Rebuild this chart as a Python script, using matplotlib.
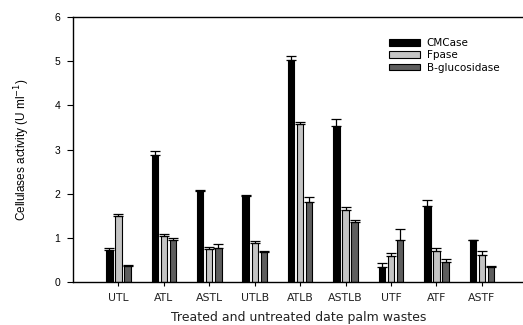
import matplotlib
matplotlib.use("Agg")
import matplotlib.pyplot as plt
import numpy as np

plt.rcParams['font.family'] = ['Liberation Sans', 'DejaVu Sans']

samples = ["UTL", "ATL", "ASTL", "UTLB", "ATLB", "ASTLB", "UTF", "ATF", "ASTF"]

cmcase = [0.72, 2.87, 2.05, 1.94, 5.03, 3.54, 0.34, 1.73, 0.94]
cmcase_err = [0.06, 0.10, 0.04, 0.04, 0.08, 0.15, 0.10, 0.12, 0.02]

fpase = [1.49, 1.04, 0.75, 0.88, 3.57, 1.64, 0.59, 0.71, 0.61]
fpase_err = [0.05, 0.04, 0.04, 0.04, 0.05, 0.05, 0.06, 0.07, 0.10]

bgluc = [0.37, 0.95, 0.77, 0.67, 1.82, 1.36, 0.96, 0.46, 0.34]
bgluc_err = [0.02, 0.05, 0.10, 0.04, 0.10, 0.05, 0.25, 0.05, 0.03]

series = [("CMCase", cmcase, cmcase_err, "#000000"),
          ("Fpase", fpase, fpase_err, "#c4c4c4"),
          ("B-glucosidase", bgluc, bgluc_err, "#5e5e5e")]

wide = ['DejaVu Sans']

fig = plt.figure(figsize=(5.23, 3.25), dpi=100)
ax = fig.add_axes([73 / 523, 43 / 325, 452 / 523, 265 / 325])

x = np.arange(1, len(samples) + 1)
width = 0.14
offsets = [-0.2, 0.0, 0.2]

for (name, vals, errs, col), off in zip(series, offsets):
    ax.bar(x + off, vals, width, color=col, edgecolor="black", linewidth=0.8, label=name, zorder=2)
    ax.errorbar(x + off, vals, yerr=[np.zeros(len(errs)), errs], fmt="none",
                ecolor="black", elinewidth=0.9, capsize=3.5, capthick=0.9, zorder=3)

ax.set_xlim(0, 9.95)
ax.set_ylim(0, 6)
ax.set_xticks(x)
ax.set_xticklabels(samples, fontsize=7.8, family=wide, color="#222222")
ax.set_yticks(range(0, 7))
ax.tick_params(axis="y", labelsize=7.5, length=4, width=0.8, pad=5)
ax.tick_params(axis="x", length=3, width=0.8, pad=5)

ax.spines["right"].set_visible(False)
for s in ["left", "bottom", "top"]:
    ax.spines[s].set_linewidth(1.0)

ax.set_ylabel("Cellulases activity (U ml$^{-1}$)", fontsize=8.5, labelpad=16)
ax.set_xlabel("Treated and untreated date palm wastes", fontsize=9, family=wide,
              color="#222222", labelpad=6)

leg = ax.legend(loc="upper left", bbox_to_anchor=(0.69, 0.935), frameon=False,
                prop={'family': wide, 'size': 7.5}, handlelength=3.0, handleheight=0.6,
                handletextpad=0.6, labelspacing=0.2, borderaxespad=0)

fig.savefig("out.png", dpi=100)
